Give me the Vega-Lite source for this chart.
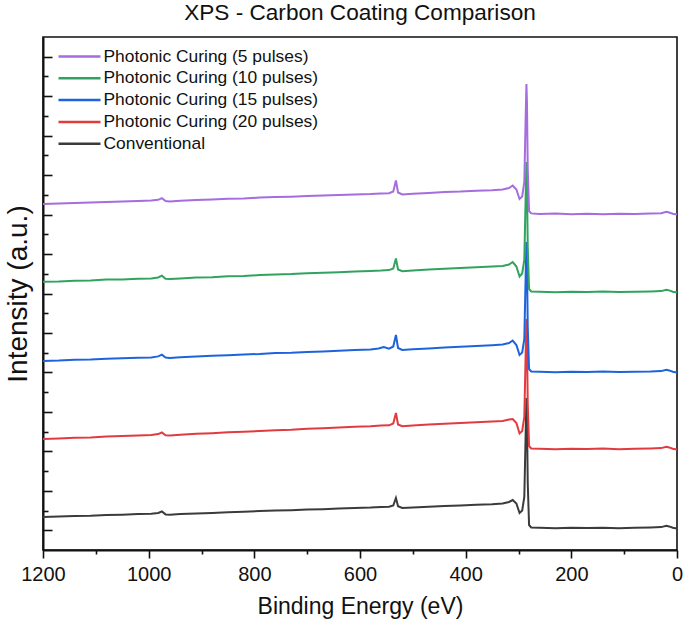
{
  "$schema": "https://vega.github.io/schema/vega-lite/v6.json",
  "width": 634,
  "height": 513,
  "autosize": {"type": "none"},
  "padding": {"left": 43, "top": 37, "right": 8, "bottom": 76},
  "background": "white",
  "config": {
    "font": "Liberation Sans",
    "view": {"stroke": "#111", "strokeWidth": 1.6},
    "axis": {"grid": false, "domainColor": "#111", "domainWidth": 2, "tickColor": "#111", "tickWidth": 1.6, "labelColor": "#111", "titleColor": "#111", "titleFontWeight": "normal"}
  },
  "title": {"text": "XPS - Carbon Coating Comparison", "fontSize": 22.6, "fontWeight": "normal", "color": "#111", "anchor": "middle", "offset": 12, "font": "Liberation Sans"},
  "data": {"values": [
    {"series":"Conventional","energy":1200,"intensity":33.0},{"series":"Conventional","energy":1170,"intensity":33.4},{"series":"Conventional","energy":1140,"intensity":34.0},{"series":"Conventional","energy":1110,"intensity":34.3},{"series":"Conventional","energy":1080,"intensity":35.0},{"series":"Conventional","energy":1050,"intensity":35.3},{"series":"Conventional","energy":1020,"intensity":35.9},{"series":"Conventional","energy":995,"intensity":36.2},{"series":"Conventional","energy":982,"intensity":37.0},{"series":"Conventional","energy":975,"intensity":38.5},{"series":"Conventional","energy":968,"intensity":35.6},{"series":"Conventional","energy":960,"intensity":35.3},{"series":"Conventional","energy":940,"intensity":36.0},{"series":"Conventional","energy":910,"intensity":36.6},{"series":"Conventional","energy":880,"intensity":37.1},{"series":"Conventional","energy":850,"intensity":37.8},{"series":"Conventional","energy":820,"intensity":38.2},{"series":"Conventional","energy":790,"intensity":38.9},{"series":"Conventional","energy":760,"intensity":39.4},{"series":"Conventional","energy":730,"intensity":39.8},{"series":"Conventional","energy":700,"intensity":40.5},{"series":"Conventional","energy":670,"intensity":40.8},{"series":"Conventional","energy":640,"intensity":41.4},{"series":"Conventional","energy":610,"intensity":42.0},{"series":"Conventional","energy":580,"intensity":42.4},{"series":"Conventional","energy":560,"intensity":43.0},{"series":"Conventional","energy":545,"intensity":43.2},{"series":"Conventional","energy":537,"intensity":44.5},{"series":"Conventional","energy":532,"intensity":52.0},{"series":"Conventional","energy":528,"intensity":43.8},{"series":"Conventional","energy":520,"intensity":42.0},{"series":"Conventional","energy":500,"intensity":42.6},{"series":"Conventional","energy":470,"intensity":43.3},{"series":"Conventional","energy":440,"intensity":44.1},{"series":"Conventional","energy":410,"intensity":44.6},{"series":"Conventional","energy":380,"intensity":45.3},{"series":"Conventional","energy":350,"intensity":45.8},{"series":"Conventional","energy":330,"intensity":46.5},{"series":"Conventional","energy":318,"intensity":48.0},{"series":"Conventional","energy":311,"intensity":50.0},{"series":"Conventional","energy":304,"intensity":46.5},{"series":"Conventional","energy":298,"intensity":37.0},{"series":"Conventional","energy":293,"intensity":39.5},{"series":"Conventional","energy":289,"intensity":53},{"series":"Conventional","energy":286.5,"intensity":115},{"series":"Conventional","energy":285,"intensity":152},{"series":"Conventional","energy":284,"intensity":134},{"series":"Conventional","energy":282.5,"intensity":67},{"series":"Conventional","energy":280,"intensity":25},{"series":"Conventional","energy":276,"intensity":22.6},{"series":"Conventional","energy":260,"intensity":22.2},{"series":"Conventional","energy":230,"intensity":21.8},{"series":"Conventional","energy":200,"intensity":22.3},{"series":"Conventional","energy":170,"intensity":21.9},{"series":"Conventional","energy":140,"intensity":22.3},{"series":"Conventional","energy":110,"intensity":21.8},{"series":"Conventional","energy":80,"intensity":22.2},{"series":"Conventional","energy":50,"intensity":22.5},{"series":"Conventional","energy":30,"intensity":22.9},{"series":"Conventional","energy":20,"intensity":24.2},{"series":"Conventional","energy":15,"intensity":23.6},{"series":"Conventional","energy":8,"intensity":22.3},{"series":"Conventional","energy":0,"intensity":21.6},

    {"series":"Photonic Curing (20 pulses)","energy":1200,"intensity":111.0},{"series":"Photonic Curing (20 pulses)","energy":1170,"intensity":111.6},{"series":"Photonic Curing (20 pulses)","energy":1140,"intensity":112.3},{"series":"Photonic Curing (20 pulses)","energy":1110,"intensity":112.6},{"series":"Photonic Curing (20 pulses)","energy":1080,"intensity":113.5},{"series":"Photonic Curing (20 pulses)","energy":1050,"intensity":113.9},{"series":"Photonic Curing (20 pulses)","energy":1020,"intensity":114.6},{"series":"Photonic Curing (20 pulses)","energy":995,"intensity":115.0},{"series":"Photonic Curing (20 pulses)","energy":982,"intensity":115.9},{"series":"Photonic Curing (20 pulses)","energy":975,"intensity":117.5},{"series":"Photonic Curing (20 pulses)","energy":968,"intensity":114.8},{"series":"Photonic Curing (20 pulses)","energy":960,"intensity":114.5},{"series":"Photonic Curing (20 pulses)","energy":940,"intensity":115.3},{"series":"Photonic Curing (20 pulses)","energy":910,"intensity":116.2},{"series":"Photonic Curing (20 pulses)","energy":880,"intensity":116.8},{"series":"Photonic Curing (20 pulses)","energy":850,"intensity":117.7},{"series":"Photonic Curing (20 pulses)","energy":820,"intensity":118.3},{"series":"Photonic Curing (20 pulses)","energy":790,"intensity":119.0},{"series":"Photonic Curing (20 pulses)","energy":760,"intensity":119.8},{"series":"Photonic Curing (20 pulses)","energy":730,"intensity":120.3},{"series":"Photonic Curing (20 pulses)","energy":700,"intensity":121.2},{"series":"Photonic Curing (20 pulses)","energy":670,"intensity":121.7},{"series":"Photonic Curing (20 pulses)","energy":640,"intensity":122.4},{"series":"Photonic Curing (20 pulses)","energy":610,"intensity":123.2},{"series":"Photonic Curing (20 pulses)","energy":580,"intensity":123.7},{"series":"Photonic Curing (20 pulses)","energy":560,"intensity":124.4},{"series":"Photonic Curing (20 pulses)","energy":545,"intensity":124.7},{"series":"Photonic Curing (20 pulses)","energy":537,"intensity":126.5},{"series":"Photonic Curing (20 pulses)","energy":532,"intensity":137.0},{"series":"Photonic Curing (20 pulses)","energy":528,"intensity":125.5},{"series":"Photonic Curing (20 pulses)","energy":520,"intensity":123.8},{"series":"Photonic Curing (20 pulses)","energy":500,"intensity":124.6},{"series":"Photonic Curing (20 pulses)","energy":470,"intensity":125.5},{"series":"Photonic Curing (20 pulses)","energy":440,"intensity":126.3},{"series":"Photonic Curing (20 pulses)","energy":410,"intensity":127.0},{"series":"Photonic Curing (20 pulses)","energy":380,"intensity":127.8},{"series":"Photonic Curing (20 pulses)","energy":350,"intensity":128.4},{"series":"Photonic Curing (20 pulses)","energy":330,"intensity":129.0},{"series":"Photonic Curing (20 pulses)","energy":318,"intensity":130.5},{"series":"Photonic Curing (20 pulses)","energy":311,"intensity":131.0},{"series":"Photonic Curing (20 pulses)","energy":304,"intensity":127.0},{"series":"Photonic Curing (20 pulses)","energy":298,"intensity":116.5},{"series":"Photonic Curing (20 pulses)","energy":293,"intensity":119.0},{"series":"Photonic Curing (20 pulses)","energy":289,"intensity":133},{"series":"Photonic Curing (20 pulses)","energy":286.5,"intensity":195},{"series":"Photonic Curing (20 pulses)","energy":285,"intensity":231},{"series":"Photonic Curing (20 pulses)","energy":284,"intensity":213},{"series":"Photonic Curing (20 pulses)","energy":282.5,"intensity":146},{"series":"Photonic Curing (20 pulses)","energy":280,"intensity":104},{"series":"Photonic Curing (20 pulses)","energy":276,"intensity":101.6},{"series":"Photonic Curing (20 pulses)","energy":260,"intensity":101.2},{"series":"Photonic Curing (20 pulses)","energy":230,"intensity":100.8},{"series":"Photonic Curing (20 pulses)","energy":200,"intensity":101.3},{"series":"Photonic Curing (20 pulses)","energy":170,"intensity":100.9},{"series":"Photonic Curing (20 pulses)","energy":140,"intensity":101.4},{"series":"Photonic Curing (20 pulses)","energy":110,"intensity":100.8},{"series":"Photonic Curing (20 pulses)","energy":80,"intensity":101.2},{"series":"Photonic Curing (20 pulses)","energy":50,"intensity":101.5},{"series":"Photonic Curing (20 pulses)","energy":30,"intensity":101.9},{"series":"Photonic Curing (20 pulses)","energy":20,"intensity":103.2},{"series":"Photonic Curing (20 pulses)","energy":15,"intensity":102.6},{"series":"Photonic Curing (20 pulses)","energy":8,"intensity":101.2},{"series":"Photonic Curing (20 pulses)","energy":0,"intensity":100.5},

    {"series":"Photonic Curing (15 pulses)","energy":1200,"intensity":189.0},{"series":"Photonic Curing (15 pulses)","energy":1170,"intensity":189.4},{"series":"Photonic Curing (15 pulses)","energy":1140,"intensity":190.2},{"series":"Photonic Curing (15 pulses)","energy":1110,"intensity":190.5},{"series":"Photonic Curing (15 pulses)","energy":1080,"intensity":191.3},{"series":"Photonic Curing (15 pulses)","energy":1050,"intensity":191.7},{"series":"Photonic Curing (15 pulses)","energy":1020,"intensity":192.3},{"series":"Photonic Curing (15 pulses)","energy":995,"intensity":192.6},{"series":"Photonic Curing (15 pulses)","energy":982,"intensity":193.6},{"series":"Photonic Curing (15 pulses)","energy":975,"intensity":195.3},{"series":"Photonic Curing (15 pulses)","energy":968,"intensity":192.4},{"series":"Photonic Curing (15 pulses)","energy":960,"intensity":192.1},{"series":"Photonic Curing (15 pulses)","energy":940,"intensity":192.8},{"series":"Photonic Curing (15 pulses)","energy":910,"intensity":193.5},{"series":"Photonic Curing (15 pulses)","energy":880,"intensity":194.2},{"series":"Photonic Curing (15 pulses)","energy":850,"intensity":194.8},{"series":"Photonic Curing (15 pulses)","energy":820,"intensity":195.5},{"series":"Photonic Curing (15 pulses)","energy":790,"intensity":196.0},{"series":"Photonic Curing (15 pulses)","energy":760,"intensity":196.9},{"series":"Photonic Curing (15 pulses)","energy":730,"intensity":197.3},{"series":"Photonic Curing (15 pulses)","energy":700,"intensity":198.1},{"series":"Photonic Curing (15 pulses)","energy":670,"intensity":198.5},{"series":"Photonic Curing (15 pulses)","energy":640,"intensity":199.2},{"series":"Photonic Curing (15 pulses)","energy":610,"intensity":199.9},{"series":"Photonic Curing (15 pulses)","energy":580,"intensity":200.4},{"series":"Photonic Curing (15 pulses)","energy":565,"intensity":201.5},{"series":"Photonic Curing (15 pulses)","energy":555,"intensity":203.0},{"series":"Photonic Curing (15 pulses)","energy":545,"intensity":201.4},{"series":"Photonic Curing (15 pulses)","energy":537,"intensity":203.5},{"series":"Photonic Curing (15 pulses)","energy":532,"intensity":215.0},{"series":"Photonic Curing (15 pulses)","energy":528,"intensity":202.0},{"series":"Photonic Curing (15 pulses)","energy":520,"intensity":200.0},{"series":"Photonic Curing (15 pulses)","energy":500,"intensity":200.8},{"series":"Photonic Curing (15 pulses)","energy":470,"intensity":201.6},{"series":"Photonic Curing (15 pulses)","energy":440,"intensity":202.6},{"series":"Photonic Curing (15 pulses)","energy":410,"intensity":203.3},{"series":"Photonic Curing (15 pulses)","energy":380,"intensity":204.0},{"series":"Photonic Curing (15 pulses)","energy":350,"intensity":204.8},{"series":"Photonic Curing (15 pulses)","energy":330,"intensity":205.5},{"series":"Photonic Curing (15 pulses)","energy":318,"intensity":207.0},{"series":"Photonic Curing (15 pulses)","energy":311,"intensity":209.5},{"series":"Photonic Curing (15 pulses)","energy":304,"intensity":205.0},{"series":"Photonic Curing (15 pulses)","energy":298,"intensity":195.0},{"series":"Photonic Curing (15 pulses)","energy":293,"intensity":197.5},{"series":"Photonic Curing (15 pulses)","energy":289,"intensity":211},{"series":"Photonic Curing (15 pulses)","energy":286.5,"intensity":273},{"series":"Photonic Curing (15 pulses)","energy":285,"intensity":308},{"series":"Photonic Curing (15 pulses)","energy":284,"intensity":290},{"series":"Photonic Curing (15 pulses)","energy":282.5,"intensity":223},{"series":"Photonic Curing (15 pulses)","energy":280,"intensity":181},{"series":"Photonic Curing (15 pulses)","energy":276,"intensity":178.6},{"series":"Photonic Curing (15 pulses)","energy":260,"intensity":178.2},{"series":"Photonic Curing (15 pulses)","energy":230,"intensity":177.8},{"series":"Photonic Curing (15 pulses)","energy":200,"intensity":178.3},{"series":"Photonic Curing (15 pulses)","energy":170,"intensity":178.0},{"series":"Photonic Curing (15 pulses)","energy":140,"intensity":178.4},{"series":"Photonic Curing (15 pulses)","energy":110,"intensity":177.9},{"series":"Photonic Curing (15 pulses)","energy":80,"intensity":178.3},{"series":"Photonic Curing (15 pulses)","energy":50,"intensity":178.5},{"series":"Photonic Curing (15 pulses)","energy":30,"intensity":178.9},{"series":"Photonic Curing (15 pulses)","energy":20,"intensity":180.2},{"series":"Photonic Curing (15 pulses)","energy":15,"intensity":179.6},{"series":"Photonic Curing (15 pulses)","energy":8,"intensity":178.2},{"series":"Photonic Curing (15 pulses)","energy":0,"intensity":177.5},

    {"series":"Photonic Curing (10 pulses)","energy":1200,"intensity":268.2},{"series":"Photonic Curing (10 pulses)","energy":1170,"intensity":268.5},{"series":"Photonic Curing (10 pulses)","energy":1140,"intensity":269.3},{"series":"Photonic Curing (10 pulses)","energy":1110,"intensity":269.6},{"series":"Photonic Curing (10 pulses)","energy":1080,"intensity":270.4},{"series":"Photonic Curing (10 pulses)","energy":1050,"intensity":270.6},{"series":"Photonic Curing (10 pulses)","energy":1020,"intensity":271.3},{"series":"Photonic Curing (10 pulses)","energy":995,"intensity":271.6},{"series":"Photonic Curing (10 pulses)","energy":982,"intensity":272.5},{"series":"Photonic Curing (10 pulses)","energy":975,"intensity":274.3},{"series":"Photonic Curing (10 pulses)","energy":968,"intensity":271.2},{"series":"Photonic Curing (10 pulses)","energy":960,"intensity":270.9},{"series":"Photonic Curing (10 pulses)","energy":940,"intensity":271.6},{"series":"Photonic Curing (10 pulses)","energy":910,"intensity":272.5},{"series":"Photonic Curing (10 pulses)","energy":880,"intensity":272.8},{"series":"Photonic Curing (10 pulses)","energy":850,"intensity":273.8},{"series":"Photonic Curing (10 pulses)","energy":820,"intensity":274.1},{"series":"Photonic Curing (10 pulses)","energy":790,"intensity":274.9},{"series":"Photonic Curing (10 pulses)","energy":760,"intensity":275.6},{"series":"Photonic Curing (10 pulses)","energy":730,"intensity":275.9},{"series":"Photonic Curing (10 pulses)","energy":700,"intensity":276.8},{"series":"Photonic Curing (10 pulses)","energy":670,"intensity":277.2},{"series":"Photonic Curing (10 pulses)","energy":640,"intensity":277.8},{"series":"Photonic Curing (10 pulses)","energy":610,"intensity":278.5},{"series":"Photonic Curing (10 pulses)","energy":580,"intensity":279.0},{"series":"Photonic Curing (10 pulses)","energy":560,"intensity":279.4},{"series":"Photonic Curing (10 pulses)","energy":545,"intensity":279.9},{"series":"Photonic Curing (10 pulses)","energy":537,"intensity":281.5},{"series":"Photonic Curing (10 pulses)","energy":532,"intensity":291.5},{"series":"Photonic Curing (10 pulses)","energy":528,"intensity":280.5},{"series":"Photonic Curing (10 pulses)","energy":520,"intensity":278.8},{"series":"Photonic Curing (10 pulses)","energy":500,"intensity":279.5},{"series":"Photonic Curing (10 pulses)","energy":470,"intensity":280.4},{"series":"Photonic Curing (10 pulses)","energy":440,"intensity":281.2},{"series":"Photonic Curing (10 pulses)","energy":410,"intensity":282.0},{"series":"Photonic Curing (10 pulses)","energy":380,"intensity":282.7},{"series":"Photonic Curing (10 pulses)","energy":350,"intensity":283.4},{"series":"Photonic Curing (10 pulses)","energy":330,"intensity":284.0},{"series":"Photonic Curing (10 pulses)","energy":318,"intensity":285.5},{"series":"Photonic Curing (10 pulses)","energy":311,"intensity":288.0},{"series":"Photonic Curing (10 pulses)","energy":304,"intensity":283.5},{"series":"Photonic Curing (10 pulses)","energy":298,"intensity":273.5},{"series":"Photonic Curing (10 pulses)","energy":293,"intensity":276.5},{"series":"Photonic Curing (10 pulses)","energy":289,"intensity":290},{"series":"Photonic Curing (10 pulses)","energy":286.5,"intensity":352},{"series":"Photonic Curing (10 pulses)","energy":285,"intensity":388},{"series":"Photonic Curing (10 pulses)","energy":284,"intensity":370},{"series":"Photonic Curing (10 pulses)","energy":282.5,"intensity":303},{"series":"Photonic Curing (10 pulses)","energy":280,"intensity":261},{"series":"Photonic Curing (10 pulses)","energy":276,"intensity":258.5},{"series":"Photonic Curing (10 pulses)","energy":260,"intensity":258.2},{"series":"Photonic Curing (10 pulses)","energy":230,"intensity":257.8},{"series":"Photonic Curing (10 pulses)","energy":200,"intensity":258.3},{"series":"Photonic Curing (10 pulses)","energy":170,"intensity":258.0},{"series":"Photonic Curing (10 pulses)","energy":140,"intensity":258.4},{"series":"Photonic Curing (10 pulses)","energy":110,"intensity":257.9},{"series":"Photonic Curing (10 pulses)","energy":80,"intensity":258.2},{"series":"Photonic Curing (10 pulses)","energy":50,"intensity":258.5},{"series":"Photonic Curing (10 pulses)","energy":30,"intensity":258.9},{"series":"Photonic Curing (10 pulses)","energy":20,"intensity":260.3},{"series":"Photonic Curing (10 pulses)","energy":15,"intensity":259.6},{"series":"Photonic Curing (10 pulses)","energy":8,"intensity":258.3},{"series":"Photonic Curing (10 pulses)","energy":0,"intensity":257.6},

    {"series":"Photonic Curing (5 pulses)","energy":1200,"intensity":346.0},{"series":"Photonic Curing (5 pulses)","energy":1170,"intensity":346.6},{"series":"Photonic Curing (5 pulses)","energy":1140,"intensity":347.0},{"series":"Photonic Curing (5 pulses)","energy":1110,"intensity":347.5},{"series":"Photonic Curing (5 pulses)","energy":1080,"intensity":348.1},{"series":"Photonic Curing (5 pulses)","energy":1050,"intensity":348.4},{"series":"Photonic Curing (5 pulses)","energy":1020,"intensity":349.0},{"series":"Photonic Curing (5 pulses)","energy":995,"intensity":349.4},{"series":"Photonic Curing (5 pulses)","energy":982,"intensity":350.2},{"series":"Photonic Curing (5 pulses)","energy":975,"intensity":351.8},{"series":"Photonic Curing (5 pulses)","energy":968,"intensity":349.0},{"series":"Photonic Curing (5 pulses)","energy":960,"intensity":348.6},{"series":"Photonic Curing (5 pulses)","energy":940,"intensity":349.3},{"series":"Photonic Curing (5 pulses)","energy":910,"intensity":350.0},{"series":"Photonic Curing (5 pulses)","energy":880,"intensity":350.5},{"series":"Photonic Curing (5 pulses)","energy":850,"intensity":351.3},{"series":"Photonic Curing (5 pulses)","energy":820,"intensity":351.6},{"series":"Photonic Curing (5 pulses)","energy":790,"intensity":352.4},{"series":"Photonic Curing (5 pulses)","energy":760,"intensity":352.9},{"series":"Photonic Curing (5 pulses)","energy":730,"intensity":353.3},{"series":"Photonic Curing (5 pulses)","energy":700,"intensity":354.0},{"series":"Photonic Curing (5 pulses)","energy":670,"intensity":354.4},{"series":"Photonic Curing (5 pulses)","energy":640,"intensity":354.9},{"series":"Photonic Curing (5 pulses)","energy":610,"intensity":355.6},{"series":"Photonic Curing (5 pulses)","energy":580,"intensity":356.0},{"series":"Photonic Curing (5 pulses)","energy":560,"intensity":356.6},{"series":"Photonic Curing (5 pulses)","energy":545,"intensity":356.8},{"series":"Photonic Curing (5 pulses)","energy":537,"intensity":358.5},{"series":"Photonic Curing (5 pulses)","energy":532,"intensity":369.5},{"series":"Photonic Curing (5 pulses)","energy":528,"intensity":357.5},{"series":"Photonic Curing (5 pulses)","energy":520,"intensity":355.6},{"series":"Photonic Curing (5 pulses)","energy":500,"intensity":356.3},{"series":"Photonic Curing (5 pulses)","energy":470,"intensity":357.0},{"series":"Photonic Curing (5 pulses)","energy":440,"intensity":358.0},{"series":"Photonic Curing (5 pulses)","energy":410,"intensity":358.4},{"series":"Photonic Curing (5 pulses)","energy":380,"intensity":359.3},{"series":"Photonic Curing (5 pulses)","energy":350,"intensity":359.8},{"series":"Photonic Curing (5 pulses)","energy":330,"intensity":360.6},{"series":"Photonic Curing (5 pulses)","energy":318,"intensity":362.0},{"series":"Photonic Curing (5 pulses)","energy":311,"intensity":364.5},{"series":"Photonic Curing (5 pulses)","energy":304,"intensity":360.5},{"series":"Photonic Curing (5 pulses)","energy":298,"intensity":351.0},{"series":"Photonic Curing (5 pulses)","energy":293,"intensity":353.5},{"series":"Photonic Curing (5 pulses)","energy":289,"intensity":368},{"series":"Photonic Curing (5 pulses)","energy":286.5,"intensity":431},{"series":"Photonic Curing (5 pulses)","energy":285,"intensity":466},{"series":"Photonic Curing (5 pulses)","energy":284,"intensity":448},{"series":"Photonic Curing (5 pulses)","energy":282.5,"intensity":381},{"series":"Photonic Curing (5 pulses)","energy":280,"intensity":339},{"series":"Photonic Curing (5 pulses)","energy":276,"intensity":336.6},{"series":"Photonic Curing (5 pulses)","energy":260,"intensity":336.0},{"series":"Photonic Curing (5 pulses)","energy":230,"intensity":336.4},{"series":"Photonic Curing (5 pulses)","energy":200,"intensity":335.7},{"series":"Photonic Curing (5 pulses)","energy":170,"intensity":336.2},{"series":"Photonic Curing (5 pulses)","energy":140,"intensity":335.8},{"series":"Photonic Curing (5 pulses)","energy":110,"intensity":336.3},{"series":"Photonic Curing (5 pulses)","energy":80,"intensity":336.0},{"series":"Photonic Curing (5 pulses)","energy":50,"intensity":336.4},{"series":"Photonic Curing (5 pulses)","energy":30,"intensity":336.8},{"series":"Photonic Curing (5 pulses)","energy":20,"intensity":338.2},{"series":"Photonic Curing (5 pulses)","energy":15,"intensity":337.5},{"series":"Photonic Curing (5 pulses)","energy":8,"intensity":336.2},{"series":"Photonic Curing (5 pulses)","energy":0,"intensity":335.5}
  ]},
  "mark": {"type": "line", "strokeWidth": 2, "clip": true},
  "encoding": {
    "x": {
      "field": "energy", "type": "quantitative",
      "scale": {"domain": [0, 1200], "reverse": true, "nice": false, "zero": false},
      "axis": {
        "title": "Binding Energy (eV)", "titleFontSize": 23, "titlePadding": 11,
        "values": [0,100,200,300,400,500,600,700,800,900,1000,1100,1200],
        "labelExpr": "datum.value % 200 == 0 ? datum.label : ''",
        "format": "d",
        "labelFontSize": 20, "labelFlush": false, "labelOverlap": false, "labelPadding": 6,
        "tickSize": {"condition": {"test": "datum.value % 200 == 0", "value": 8}, "value": 4}
      }
    },
    "y": {
      "field": "intensity", "type": "quantitative",
      "scale": {"domain": [0, 513], "nice": false, "zero": false},
      "axis": {
        "title": "Intensity (a.u.)", "titleFontSize": 28, "titlePadding": 10,
        "labels": false,
        "values": [19.73,39.46,59.19,78.92,98.65,118.38,138.11,157.84,177.57,197.3,217.03,236.76,256.49,276.22,295.95,315.68,335.41,355.14,374.87,394.6,414.33,434.06,453.79,473.52,493.25],
        "tickSize": {"condition": {"test": "round(datum.value / 19.73) % 2 == 1", "value": -9}, "value": -5}
      }
    },
    "color": {
      "field": "series", "type": "nominal",
      "scale": {
        "domain": ["Photonic Curing (5 pulses)", "Photonic Curing (10 pulses)", "Photonic Curing (15 pulses)", "Photonic Curing (20 pulses)", "Conventional"],
        "range": ["#a56ddd", "#31a35e", "#1d64dc", "#e23b3f", "#3b3b3b"]
      },
      "legend": {
        "title": null, "orient": "none", "legendX": 24.5, "legendY": 7.5, "padding": 0,
        "symbolType": "M-2,0H2", "symbolSize": 441, "symbolStrokeWidth": 2.5,
        "labelFontSize": 17.4, "labelColor": "#111", "labelOffset": 12, "rowPadding": 0.8,
        "labelLimit": 400
      }
    }
  }
}
